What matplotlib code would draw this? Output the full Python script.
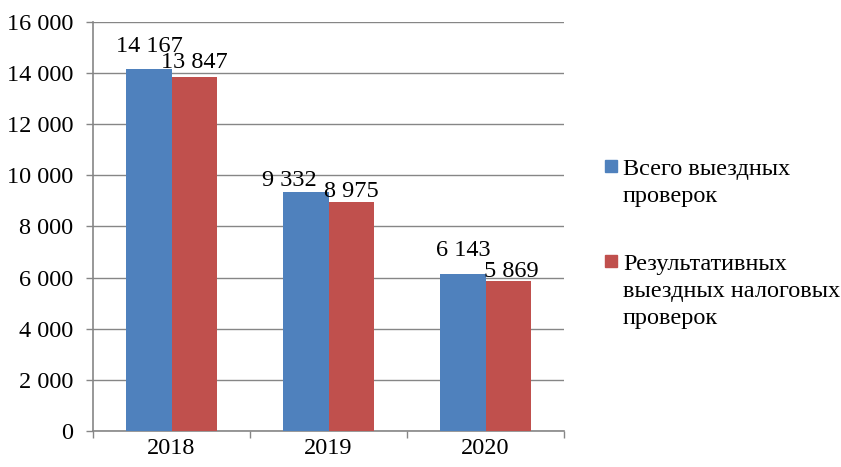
import numpy as np
import matplotlib.pyplot as plt
from matplotlib.patches import Rectangle

years = ['2018', '2019', '2020']
total_checks = [14167, 9332, 6143]
effective_checks = [13847, 8975, 5869]
series_names = [['Всего выездных', 'проверок'],
                ['Результативных', 'выездных налоговых', 'проверок']]
colors = ['#4F81BD', '#C0504D']

# hand-placed label offsets (pixels) like in the original
label_offsets = [[(0, 17), (-17, 6), (0, 18)],
                 [(0, 9), (0, 5), (3, 4)]]

plt.rcParams['font.family'] = ['Liberation Serif', 'DejaVu Serif']
fs = 17.5
grid_c = '#868686'

fig = plt.figure(figsize=(8.41, 4.67), dpi=100, facecolor='w')
ax = fig.add_axes([93 / 841, 1 - 431 / 467, (564 - 93) / 841, (431 - 22) / 467])

x = np.arange(len(years))
w = 0.287
for k, vals in enumerate([total_checks, effective_checks]):
    pos = x + (k - 0.5) * w
    ax.bar(pos, vals, width=w, color=colors[k], zorder=3)
    for p, v, off in zip(pos, vals, label_offsets[k]):
        ax.annotate(format(v, ',').replace(',', ' '), (p, v), xytext=off,
                    textcoords='offset pixels', ha='center', va='baseline',
                    fontsize=fs, zorder=4)

ax.set_xlim(-0.5, 2.5)
ax.set_ylim(0, 16000)
yt = np.arange(0, 16001, 2000)
ax.set_yticks(yt)
ax.set_yticklabels([format(v, ',').replace(',', ' ') for v in yt], fontsize=fs)
ax.set_xticks(x)
ax.set_xticklabels(years, fontsize=fs)
ax.set_xticks(np.arange(-0.5, 2.6, 1), minor=True)
ax.tick_params(axis='x', which='major', length=0, pad=5)
ax.tick_params(axis='x', which='minor', length=5, color=grid_c, width=1)
ax.tick_params(axis='y', length=5, color=grid_c, width=1, pad=9)
ax.yaxis.grid(True, color=grid_c, linewidth=1, zorder=0)
ax.set_axisbelow(True)
for s in ['top', 'right']:
    ax.spines[s].set_visible(False)
for s in ['left', 'bottom']:
    ax.spines[s].set_color(grid_c)
    ax.spines[s].set_linewidth(1.2)

# legend drawn by hand so the marker sits on the first text line
leg_y = [175, 270]
line_step = 27
for lines, c, yb in zip(series_names, colors, leg_y):
    fig.patches.append(Rectangle((605 / 841, 1 - (yb - 3) / 467), 12 / 841, 12 / 467,
                                 transform=fig.transFigure, color=c))
    for i, line in enumerate(lines):
        fig.text(623 / 841, 1 - (yb + i * line_step) / 467, line, fontsize=fs,
                 va='baseline', ha='left')

fig.savefig('out.png', dpi=100)
